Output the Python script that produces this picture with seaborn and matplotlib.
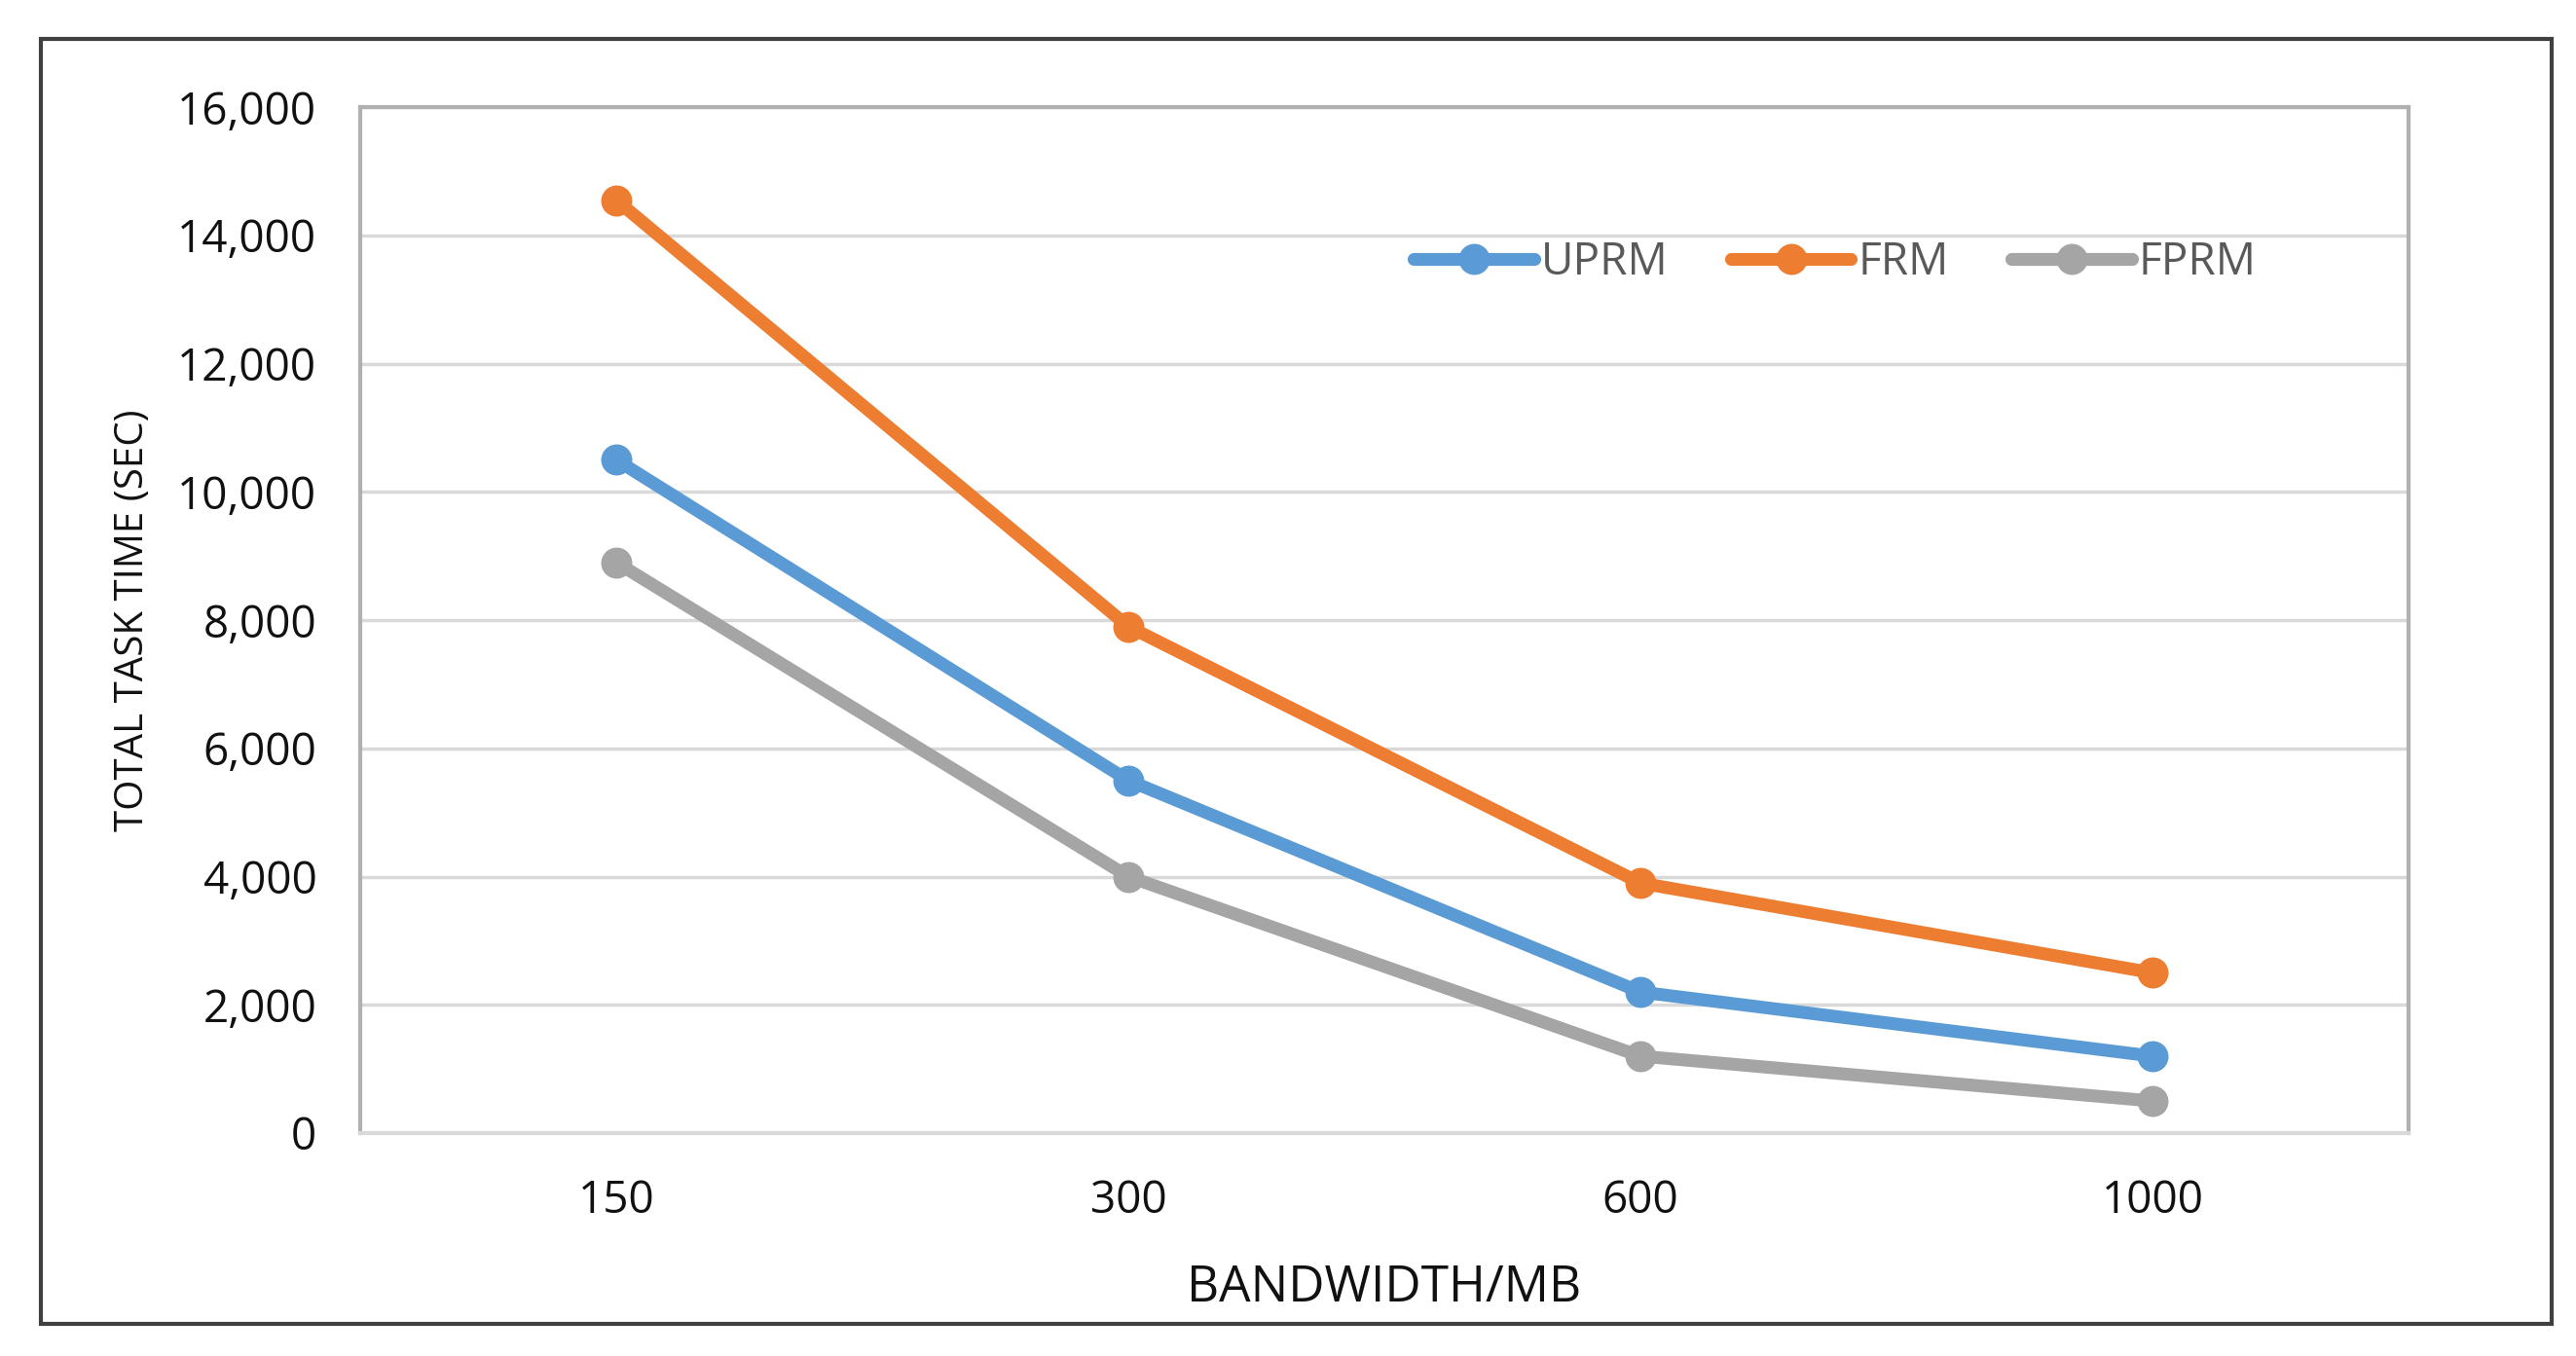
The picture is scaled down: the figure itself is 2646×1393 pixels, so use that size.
import numpy as np
import pandas as pd
import seaborn as sns
import matplotlib.pyplot as plt
from matplotlib.lines import Line2D
from matplotlib.patches import Rectangle

# data
bandwidth = ["150", "300", "600", "1000"]
uprm = [10500, 5500, 2200, 1200]
frm = [14550, 7900, 3900, 2500]
fprm = [8900, 4000, 1200, 500]
methods = ["UPRM", "FRM", "FPRM"]
colors = ["#5B9BD5", "#ED7D31", "#A5A5A5"]
yticks = list(range(0, 16001, 2000))


def main():
    sns.set_style("white")
    plt.rcParams["font.family"] = ["Open Sans", "DejaVu Sans"]

    df = pd.DataFrame({
        "bandwidth": bandwidth * 3,
        "time": uprm + frm + fprm,
        "method": np.repeat(methods, len(bandwidth)),
    })

    fig = plt.figure(figsize=(26.46, 13.93), dpi=100)
    ax = fig.add_axes([0.1398, 0.1644, 0.935 - 0.1398, 0.921 - 0.1644])

    sns.lineplot(data=df, x="bandwidth", y="time", hue="method",
                 palette=dict(zip(methods, colors)), marker="o",
                 markersize=23, markeredgewidth=0, linewidth=9.5,
                 sort=False, legend=False, ax=ax)

    ax.set_xlim(-0.5, len(bandwidth) - 0.5)
    ax.set_ylim(0, 16000)
    ax.set_yticks(yticks)
    ax.set_yticklabels([f"{v:,}" for v in yticks])
    ax.yaxis.grid(True, color="#D9D9D9", linewidth=2.5)
    ax.set_axisbelow(True)
    ax.tick_params(axis="both", length=0, labelsize=33, labelcolor="#111111")
    ax.tick_params(axis="y", pad=32)
    ax.tick_params(axis="x", pad=34)

    for side in ["left", "top", "right"]:
        ax.spines[side].set_color("#B0B0B0")
        ax.spines[side].set_linewidth(3)
    ax.spines["bottom"].set_color("#D9D9D9")
    ax.spines["bottom"].set_linewidth(3)

    ax.set_xlabel("BANDWIDTH/MB", fontsize=37, color="#111111")
    ax.set_ylabel("TOTAL TASK TIME (SEC)", fontsize=29, color="#111111")
    ax.xaxis.set_label_coords(0.5, -0.127)
    ax.yaxis.set_label_coords(-0.101, 0.5)

    handles = [Line2D([], [], color=c, marker="o", markersize=23,
                      markeredgewidth=0, linewidth=9.5,
                      solid_capstyle="round") for c in colors]
    ax.legend(handles, methods, ncol=3, frameon=False, loc="center",
              bbox_to_anchor=(0.72, 0.848), fontsize=33, labelcolor="#595959",
              handlelength=2.7, handletextpad=0.15, columnspacing=1.4)

    # outer chart frame
    fig.patches.append(Rectangle((42 / 2646, 1 - 1360 / 1393),
                                 (2621 - 42) / 2646, (1360 - 40) / 1393,
                                 transform=fig.transFigure, fill=False,
                                 edgecolor="#404040", linewidth=3))

    fig.savefig("out.png", dpi=100, facecolor="white")


if __name__ == "__main__":
    main()
